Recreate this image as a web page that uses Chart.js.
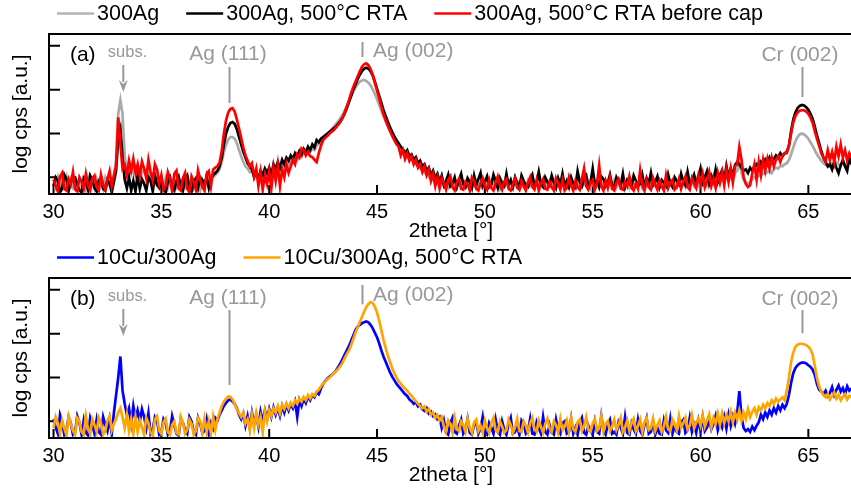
<!DOCTYPE html>
<html>
<head>
<meta charset="utf-8">
<script src="https://cdn.jsdelivr.net/npm/chart.js@4.4.1/dist/chart.umd.min.js"></script>
<style>
  html, body { margin: 0; padding: 0; background: #fff; overflow: hidden; }
  #wrap { width: 851px; height: 493px; overflow: hidden; position: relative; }
  .panel { position: absolute; left: 0; width: 856px; height: 244px; }
</style>
</head>
<body>
<div id="wrap">
  <div class="panel" style="top:0"><canvas id="chartA" width="856" height="244"></canvas></div>
  <div class="panel" style="top:244px"><canvas id="chartB" width="856" height="244"></canvas></div>
</div>
<script>
// measurement grid: 2theta from 30.0 to 67.0 in 0.1 deg steps
const X_START = 30.0;
const X_STEP = 0.1;
const X_TICKS = [30, 35, 40, 45, 50, 55, 60, 65];
const Y_TICKS = [1, 2, 3, 4];

// log cps (decades, arbitrary offset), one row per degree
const ag300 = [
  0.88,0.76,0.98,0.70,0.90,0.80,1.00,0.72,0.94,0.78,
  0.90,0.74,0.96,0.80,0.86,0.72,0.98,0.78,0.88,0.74,
  0.96,0.80,0.90,0.74,0.98,0.82,0.88,0.78,1.00,1.40,
  2.45,2.76,2.45,1.50,1.15,1.05,1.20,1.10,1.25,1.15,
  1.22,1.08,1.18,1.02,1.12,0.96,1.06,0.90,1.00,0.86,
  0.94,0.80,0.98,0.76,0.92,0.82,0.96,0.78,0.90,0.84,
  0.96,0.78,0.90,0.82,0.98,0.76,0.92,0.80,0.70,0.94,
  0.82,0.96,0.80,0.98,1.00,1.05,1.10,1.18,1.35,1.58,
  1.75,1.86,1.92,1.92,1.88,1.78,1.62,1.48,1.35,1.25,
  1.20,1.12,1.15,1.05,1.10,1.00,1.08,1.02,1.12,1.05,
  1.15,1.08,1.20,1.12,1.25,1.18,1.30,1.22,1.35,1.28,
  1.40,1.35,1.45,1.40,1.50,1.46,1.55,1.52,1.60,1.58,
  1.65,1.62,1.72,1.76,1.82,1.88,1.92,1.98,2.04,2.10,
  2.16,2.22,2.28,2.35,2.42,2.52,2.62,2.74,2.85,2.96,
  3.05,3.12,3.18,3.21,3.22,3.20,3.16,3.10,3.01,2.90,
  2.78,2.65,2.52,2.40,2.28,2.17,2.07,1.98,1.89,1.81,
  1.74,1.68,1.60,1.55,1.50,1.45,1.40,1.36,1.30,1.26,
  1.22,1.16,1.12,1.06,1.02,0.96,0.94,0.88,0.90,0.84,
  0.92,0.80,0.90,0.78,0.94,0.80,0.88,0.76,0.92,0.80,
  0.88,0.78,0.92,0.76,0.86,0.80,0.90,0.74,0.88,0.78,
  0.90,0.76,0.86,0.80,0.92,0.78,0.88,0.74,0.90,0.80,
  0.86,0.78,0.92,0.76,0.88,0.80,0.90,0.78,0.86,0.76,
  0.92,0.80,0.88,0.76,0.90,0.78,0.86,0.80,0.92,0.76,
  0.88,0.78,0.90,0.80,0.86,0.76,0.92,0.78,0.88,0.80,
  0.90,0.76,0.88,0.80,0.92,0.78,0.86,0.80,0.90,0.76,
  0.88,0.80,0.92,0.78,0.86,0.76,0.90,0.80,0.88,0.78,
  0.92,0.76,0.86,0.80,0.90,0.78,0.88,0.76,0.92,0.80,
  0.86,0.78,0.90,0.76,0.88,0.80,0.92,0.78,0.86,0.80,
  0.90,0.78,0.88,0.80,0.92,0.76,0.90,0.80,0.88,0.78,
  0.92,0.80,0.90,0.78,0.94,0.82,0.90,0.80,0.96,0.82,
  0.94,0.84,1.00,0.82,0.96,0.86,1.02,0.84,0.98,0.88,
  1.02,0.90,1.06,0.92,1.04,0.96,1.10,1.15,1.35,1.10,
  0.95,0.88,0.85,0.90,0.95,1.00,0.98,1.05,1.02,1.10,
  1.08,1.12,1.15,1.10,1.18,1.22,1.20,1.26,1.25,1.30,
  1.32,1.40,1.52,1.68,1.82,1.92,1.98,2.00,1.98,1.94,
  1.88,1.80,1.72,1.62,1.52,1.45,1.38,1.32,1.28,1.30,
  1.25,1.32,1.28,1.35,1.30,1.26,1.34,1.30,1.28,1.32,
  1.30
];

const ag300Rta = [
  0.80,1.00,0.92,0.66,0.74,1.06,0.96,0.70,0.88,1.02,
  1.00,0.84,0.70,0.66,0.98,0.90,0.72,1.04,0.94,0.76,
  0.68,0.92,1.00,0.74,0.70,0.94,0.86,0.66,0.90,1.15,
  1.90,2.10,1.45,0.95,0.75,1.00,0.70,0.92,0.68,1.05,
  0.74,0.96,0.86,0.70,1.00,0.92,0.68,1.04,0.82,0.76,
  0.98,0.72,0.66,0.90,1.00,0.76,0.70,0.92,1.02,0.80,
  0.70,0.96,1.04,0.74,0.68,0.90,0.98,0.76,1.00,0.94,
  0.80,1.02,0.76,0.98,1.05,1.10,1.15,1.25,1.45,1.75,
  2.00,2.15,2.24,2.26,2.22,2.10,1.92,1.75,1.58,1.45,
  1.32,1.25,1.18,1.00,1.12,0.95,1.15,1.05,1.20,1.10,
  1.22,1.05,1.30,1.18,1.35,1.22,1.40,1.30,1.45,1.38,
  1.50,1.42,1.55,1.48,1.60,1.52,1.65,1.58,1.70,1.62,
  1.75,1.68,1.85,1.80,1.88,1.92,1.96,2.00,2.04,2.08,
  2.12,2.16,2.22,2.28,2.36,2.46,2.58,2.72,2.86,3.00,
  3.12,3.24,3.34,3.42,3.48,3.50,3.48,3.42,3.32,3.18,
  3.02,2.86,2.70,2.54,2.40,2.27,2.15,2.04,1.94,1.85,
  1.78,1.70,1.64,1.56,1.62,1.48,1.52,1.40,1.46,1.32,
  1.38,1.25,1.30,1.15,1.22,1.05,1.15,0.98,1.08,0.90,
  1.04,0.82,0.92,1.06,0.80,0.86,1.00,0.78,0.94,1.08,
  0.84,0.78,0.98,0.90,0.76,1.04,0.82,0.96,1.10,0.80,
  0.90,1.02,0.78,0.84,1.06,0.92,0.76,0.98,0.86,0.80,
  1.08,0.82,0.94,0.78,1.00,0.88,0.76,1.04,0.92,0.82,
  0.78,0.96,1.06,0.80,0.86,1.12,0.84,0.78,1.00,0.90,
  0.82,1.04,0.88,0.76,0.98,0.84,1.08,0.80,0.92,0.78,
  1.00,0.86,0.78,1.14,0.90,0.80,0.96,1.04,0.78,0.88,
  1.20,0.84,0.92,0.78,1.02,0.96,0.80,0.88,1.06,0.82,
  0.78,1.00,0.90,0.82,1.08,0.78,0.94,0.86,0.80,1.04,
  0.92,0.80,0.86,1.06,0.78,0.98,0.84,1.10,0.82,0.90,
  1.02,0.78,0.94,0.88,0.80,1.06,0.86,0.78,1.00,0.92,
  0.84,1.08,0.90,0.82,1.12,0.86,0.94,1.06,0.84,1.00,
  1.20,0.88,1.00,1.14,0.86,1.04,0.92,1.18,0.90,1.06,
  1.16,0.94,1.26,1.00,1.20,1.05,1.28,1.35,1.30,1.22,
  1.15,1.18,1.10,1.22,1.15,1.25,1.30,1.20,1.35,1.28,
  1.40,1.30,1.45,1.35,1.42,1.50,1.45,1.55,1.48,1.55,
  1.58,1.72,2.05,2.32,2.48,2.58,2.63,2.65,2.64,2.60,
  2.54,2.45,2.33,2.15,1.95,1.78,1.60,1.45,1.35,1.25,
  1.30,1.18,1.35,1.22,1.10,1.28,1.40,1.25,1.15,1.45,
  1.30
];

const ag300RtaBeforeCap = [
  0.95,0.80,0.68,1.02,1.10,0.74,0.70,0.96,0.84,1.12,
  0.72,0.68,1.00,0.90,0.74,1.08,0.82,0.70,0.98,1.04,
  0.78,0.70,1.06,0.84,0.72,0.96,1.14,0.80,1.05,1.25,
  2.37,1.75,1.20,1.28,1.05,1.38,1.15,1.42,1.10,1.30,
  1.02,1.36,1.20,0.98,1.40,1.12,0.92,1.30,1.18,0.85,
  1.05,0.72,0.80,1.12,0.98,0.68,1.08,1.15,0.75,0.70,
  0.98,1.10,0.74,0.66,1.02,0.90,0.72,1.16,0.95,0.78,
  0.70,1.08,1.14,0.80,1.18,1.22,1.25,1.34,1.60,2.00,
  2.30,2.48,2.56,2.58,2.50,2.32,2.12,1.90,1.68,1.50,
  1.38,1.25,1.32,1.02,1.20,0.80,1.12,0.72,1.05,0.85,
  1.15,0.75,1.22,0.92,1.28,0.80,1.18,1.00,1.30,1.10,
  1.25,1.40,1.30,1.52,1.45,1.66,1.62,1.50,1.58,1.48,
  1.46,1.40,1.35,1.55,1.72,1.85,1.90,1.95,2.00,2.04,
  2.08,2.14,2.20,2.26,2.36,2.48,2.62,2.76,2.92,3.06,
  3.18,3.30,3.42,3.52,3.58,3.60,3.56,3.47,3.34,3.16,
  2.98,2.80,2.62,2.44,2.30,2.18,2.06,1.95,1.85,1.76,
  1.70,1.50,1.62,1.42,1.55,1.38,1.48,1.30,1.40,1.22,
  1.30,1.12,1.25,1.05,1.18,0.92,1.08,0.80,1.00,0.75,
  0.98,0.86,0.72,0.94,1.02,0.78,0.70,0.88,0.96,0.74,
  0.72,0.90,0.84,0.70,1.00,0.92,0.74,0.70,0.86,0.98,
  0.80,0.72,0.94,0.76,0.70,0.88,1.02,0.82,0.72,0.90,
  0.96,0.74,0.70,0.84,0.98,0.76,0.72,0.92,0.80,0.70,
  0.88,1.00,0.78,0.72,0.94,0.70,0.86,0.96,0.74,0.72,
  0.90,0.78,0.70,0.98,0.86,0.72,0.94,0.70,0.76,1.00,
  0.82,0.70,0.92,0.78,0.72,0.96,1.20,0.80,0.72,0.88,
  0.94,0.72,0.86,1.27,0.80,0.70,0.92,0.76,1.00,0.74,
  0.70,0.88,0.96,0.74,0.72,0.90,0.80,1.02,0.76,0.70,
  0.86,0.74,1.16,0.82,0.70,0.94,0.78,0.72,0.98,0.84,
  0.72,0.92,0.80,0.70,1.04,0.76,0.88,0.94,0.72,0.78,
  0.96,0.74,0.90,1.02,0.78,0.72,0.98,0.86,0.76,1.04,
  0.84,1.08,0.78,0.92,1.12,0.80,0.96,0.76,1.10,0.88,
  1.12,0.82,1.18,0.90,1.20,0.88,1.25,1.30,1.69,1.40,
  1.00,0.85,0.78,0.82,1.10,1.30,0.95,1.35,1.05,1.40,
  1.15,1.42,1.20,1.45,1.25,1.40,1.48,1.35,1.50,1.55,
  1.55,1.72,2.00,2.25,2.40,2.48,2.52,2.53,2.53,2.50,
  2.45,2.36,2.24,2.05,1.88,1.72,1.55,1.45,1.36,1.62,
  1.40,1.58,1.35,1.70,1.48,1.75,1.45,1.62,1.38,1.55,
  1.45
];

const cu10Ag300 = [
  1.05,0.86,0.72,1.15,0.98,0.70,0.80,1.10,0.96,0.70,
  0.76,1.12,0.98,0.70,1.02,0.74,0.68,1.08,0.92,0.72,
  1.04,0.76,0.70,1.10,0.92,0.78,1.05,0.72,1.20,1.60,
  2.00,2.48,1.70,1.40,1.15,1.30,0.95,1.35,1.05,1.25,
  1.00,1.28,1.10,0.85,1.18,0.72,0.80,1.10,1.02,0.70,
  0.75,1.05,0.96,0.70,0.78,1.12,0.92,0.72,0.68,1.06,
  0.96,0.80,0.72,1.10,1.00,0.76,0.70,1.08,0.94,0.74,
  0.78,1.04,0.72,0.96,0.84,1.08,1.02,1.15,1.25,1.35,
  1.42,1.48,1.50,1.45,1.40,1.30,1.15,1.05,1.18,0.90,
  1.12,0.85,1.20,0.95,1.15,0.88,1.22,1.00,1.25,1.05,
  1.28,1.10,1.32,1.15,1.30,1.12,1.35,1.20,1.38,1.25,
  1.40,1.30,1.45,1.10,1.48,1.35,1.52,1.42,1.56,1.48,
  1.60,1.55,1.66,1.62,1.75,1.85,1.92,1.98,2.02,2.06,
  2.10,2.16,2.24,2.32,2.42,2.52,2.62,2.72,2.84,2.96,
  3.08,3.16,3.20,3.24,3.26,3.28,3.26,3.20,3.12,3.02,
  2.92,2.78,2.62,2.48,2.36,2.24,2.12,2.02,1.94,1.86,
  1.80,1.74,1.68,1.62,1.58,1.50,1.46,1.40,1.44,1.34,
  1.38,1.28,1.24,1.30,1.18,1.22,1.12,1.16,1.05,1.10,
  0.85,1.02,0.74,0.70,0.96,1.08,0.76,0.72,0.90,1.04,
  0.72,0.80,1.06,0.74,0.70,0.92,0.98,0.72,0.84,1.10,
  0.74,0.70,0.96,0.86,0.72,1.04,0.76,0.70,1.00,0.82,
  0.70,0.94,1.08,0.72,0.76,0.88,0.70,1.02,0.94,0.72,
  0.78,1.06,0.72,0.70,0.98,0.84,0.72,1.10,0.76,0.70,
  0.92,0.74,0.70,1.04,0.80,0.72,0.96,1.00,0.72,0.76,
  1.06,0.72,0.86,0.70,0.98,1.08,0.74,0.70,0.90,0.78,
  0.70,1.00,0.76,0.72,1.12,0.80,0.70,0.94,1.04,0.72,
  0.76,0.70,0.98,0.86,0.72,1.10,0.74,0.70,0.96,0.82,
  0.72,1.04,0.78,0.70,0.92,1.08,0.72,0.76,1.00,0.70,
  0.86,0.72,0.70,1.02,0.80,0.74,1.06,0.72,0.90,0.76,
  0.72,0.98,1.04,0.74,0.80,1.08,0.76,0.92,0.74,1.02,
  0.80,1.10,0.78,0.86,1.04,0.82,0.94,1.12,0.80,0.98,
  0.86,1.10,0.84,1.15,0.90,1.12,0.95,1.20,1.69,1.10,
  0.85,0.78,0.82,0.76,0.88,0.80,0.90,0.98,1.15,1.05,
  1.20,1.10,1.25,1.15,1.30,1.20,1.35,1.25,1.38,1.30,
  1.40,1.60,1.88,2.10,2.22,2.28,2.32,2.34,2.34,2.32,
  2.28,2.24,2.18,2.06,1.85,1.72,1.68,1.62,1.70,1.58,
  1.65,1.78,1.60,1.72,1.82,1.68,1.76,1.62,1.80,1.70,
  1.75
];

const cu10Ag300Rta = [
  0.85,1.10,0.96,0.72,1.02,0.84,0.68,1.12,0.95,0.78,
  0.70,1.08,1.00,0.76,0.70,1.12,0.82,0.72,1.05,0.92,
  0.76,1.08,0.96,0.70,0.78,1.02,1.12,0.80,0.95,1.05,
  1.20,1.30,1.10,0.85,1.15,0.78,1.05,0.72,1.10,0.76,
  1.02,0.86,0.70,1.08,0.96,0.74,0.68,1.05,1.12,0.78,
  0.72,0.98,1.06,0.76,0.70,0.92,1.00,0.74,0.70,1.10,
  0.96,0.72,0.80,1.04,0.94,0.70,0.78,1.08,1.00,0.74,
  1.06,0.76,1.00,0.72,1.10,0.80,1.05,1.20,1.35,1.45,
  1.52,1.57,1.56,1.50,1.40,1.28,1.18,1.10,1.20,0.95,
  1.05,0.80,1.15,0.85,1.18,0.92,1.10,0.75,1.22,1.00,
  1.25,1.12,1.30,1.20,1.35,1.18,1.38,1.28,1.40,1.30,
  1.42,1.35,1.48,1.40,1.52,1.45,1.55,1.48,1.60,1.52,
  1.62,1.58,1.68,1.72,1.80,1.86,1.90,1.96,2.00,2.05,
  2.10,2.14,2.20,2.26,2.34,2.44,2.54,2.62,2.74,2.88,
  3.02,3.14,3.26,3.38,3.50,3.60,3.68,3.72,3.70,3.62,
  3.48,3.30,3.08,2.86,2.68,2.50,2.36,2.22,2.10,2.00,
  1.92,1.86,1.80,1.74,1.70,1.64,1.58,1.52,1.46,1.40,
  1.35,1.30,1.34,1.22,1.28,1.15,1.20,1.08,1.14,1.02,
  1.10,0.88,0.76,1.02,0.94,0.74,1.08,0.82,0.78,1.00,
  0.92,0.76,1.06,0.84,0.74,0.98,1.04,0.78,0.90,0.74,
  1.02,0.86,0.74,0.96,1.08,0.80,0.76,1.00,0.88,0.74,
  0.80,1.04,0.92,0.74,0.86,1.06,0.78,0.76,1.00,0.90,
  0.74,0.96,1.08,0.82,0.76,1.02,0.88,0.74,0.94,1.06,
  0.84,0.76,1.00,0.92,0.74,1.06,0.80,0.88,1.02,0.76,
  1.08,0.82,0.76,0.98,1.04,0.78,0.90,1.10,0.80,0.76,
  0.96,1.06,0.78,0.84,1.12,0.76,0.94,1.00,0.78,0.88,
  1.04,0.80,0.92,1.08,0.76,0.86,1.02,0.78,0.96,1.06,
  0.78,0.90,1.04,0.76,0.98,1.08,0.80,0.84,1.06,0.78,
  0.92,1.02,0.76,0.88,1.10,0.82,0.78,1.04,0.94,0.80,
  1.12,0.86,0.96,1.08,0.82,0.90,1.14,0.84,0.98,1.06,
  0.90,1.14,0.88,1.02,1.16,0.86,1.08,0.94,1.18,0.92,
  1.18,0.96,1.14,1.00,1.22,0.98,1.20,1.04,1.25,1.02,
  1.20,1.05,1.28,1.10,1.22,1.30,1.15,1.32,1.25,1.38,
  1.30,1.42,1.35,1.48,1.40,1.52,1.45,1.50,1.55,1.48,
  1.70,2.00,2.35,2.57,2.70,2.75,2.77,2.77,2.76,2.74,
  2.70,2.64,2.52,2.26,1.98,1.80,1.68,1.60,1.55,1.62,
  1.50,1.58,1.66,1.52,1.60,1.48,1.56,1.62,1.50,1.58,
  1.55
];

// peak labels: [text, x, y baseline]
const peakLabels = [
  ['subs.', 33.43, 3.745],
  ['Ag (111)', 38.09, 3.677],
  ['Ag (002)', 44.81, 3.75],
  ['Cr (002)', 64.61, 3.66]
];

const FONT = '"Liberation Sans", Arial, Helvetica, sans-serif';

function toPoints(vals) {
  return vals.map((v, i) => ({ x: X_START + i * X_STEP, y: v }));
}

const decorPlugin = {
  id: 'decor',
  beforeDatasetsDraw(chart) {
    const { ctx, chartArea: a, scales: { x, y } } = chart;
    ctx.save();
    ctx.strokeStyle = '#000';
    ctx.lineWidth = 2;
    ctx.beginPath();
    X_TICKS.forEach(v => {
      const px = x.getPixelForValue(v);
      ctx.moveTo(px, a.bottom);
      ctx.lineTo(px, a.bottom - 9);
    });
    Y_TICKS.forEach(v => {
      const py = y.getPixelForValue(v);
      ctx.moveTo(a.left, py);
      ctx.lineTo(a.left + 11, py);
    });
    ctx.stroke();
    ctx.restore();
  },
  afterDatasetsDraw(chart, args, opts) {
    const { ctx, chartArea: a, scales: { x, y } } = chart;
    ctx.save();
    // frame
    ctx.strokeStyle = '#000';
    ctx.lineWidth = 2;
    ctx.strokeRect(a.left, a.top, a.right - a.left, a.bottom - a.top);

    // panel letter
    ctx.fillStyle = '#000';
    ctx.font = '21px ' + FONT;
    ctx.textAlign = 'left';
    ctx.textBaseline = 'alphabetic';
    ctx.fillText(opts.letter, x.getPixelForValue(30.76), y.getPixelForValue(3.66));

    // peak labels
    ctx.fillStyle = '#999';
    peakLabels.forEach(([t, vx, vy]) => {
      ctx.font = (t === 'subs.' ? '16.5px ' : '21px ') + FONT;
      ctx.textAlign = t.startsWith('Ag (002)') ? 'left' : 'center';
      ctx.fillText(t, x.getPixelForValue(vx), y.getPixelForValue(vy));
    });

    // marker lines
    ctx.strokeStyle = '#999';
    ctx.lineWidth = 2;
    ctx.beginPath();
    opts.markers.forEach(([vx, y1, y2]) => {
      const px = Math.round(x.getPixelForValue(vx)) + 0.5;
      ctx.moveTo(px, y.getPixelForValue(y1));
      ctx.lineTo(px, y.getPixelForValue(y2));
    });
    ctx.stroke();

    // substrate arrow
    const [ax, ay1, ay2] = opts.arrow;
    const apx = x.getPixelForValue(ax);
    const top = y.getPixelForValue(ay1), tip = y.getPixelForValue(ay2);
    ctx.beginPath();
    ctx.moveTo(apx, top);
    ctx.lineTo(apx, tip - 10);
    ctx.stroke();
    ctx.fillStyle = '#999';
    ctx.beginPath();
    ctx.moveTo(apx - 4.5, tip - 12);
    ctx.lineTo(apx, tip - 8);
    ctx.lineTo(apx + 4.5, tip - 12);
    ctx.lineTo(apx, tip);
    ctx.closePath();
    ctx.fill();

    // legend row above the frame
    ctx.font = '21.5px ' + FONT;
    ctx.textAlign = 'left';
    ctx.textBaseline = 'middle';
    let lx = 57;
    const ly = 13.5;
    chart.data.datasets.slice().reverse().forEach(ds => {
      ctx.strokeStyle = ds.legendColor || ds.borderColor;
      ctx.lineWidth = 2.5;
      ctx.beginPath();
      ctx.moveTo(lx, ly);
      ctx.lineTo(lx + 37, ly);
      ctx.stroke();
      ctx.fillStyle = '#000';
      ctx.fillText(ds.label, lx + 40, ly + 1);
      lx += 40 + ctx.measureText(ds.label).width + 27;
    });
    ctx.restore();
  }
};

function makeOptions(decor) {
  return {
    responsive: false,
    animation: false,
    devicePixelRatio: 1,
    layout: { padding: { top: 34, right: 3, left: 0, bottom: 0 } },
    elements: { point: { radius: 0 }, line: { borderWidth: 2.7, tension: 0 } },
    plugins: { legend: { display: false }, tooltip: { enabled: false }, decor: decor },
    scales: {
      x: {
        type: 'linear', min: 29.79, max: 67.07,
        grid: { display: false }, border: { display: false },
        afterBuildTicks: s => { s.ticks = X_TICKS.map(v => ({ value: v })); },
        afterFit: s => { s.height = 50; },
        ticks: { color: '#000', padding: -2, maxRotation: 0, font: { family: FONT, size: 20 } },
        title: { display: true, text: '2theta [°]', color: '#000', padding: { top: 0, bottom: 0 },
                 font: { family: FONT, size: 21 } }
      },
      y: {
        type: 'linear', min: 0.62, max: 4.27,
        grid: { display: false }, border: { display: false },
        ticks: { display: false },
        afterFit: s => { s.width = 49; },
        title: { display: true, text: 'log cps [a.u.]', color: '#000', padding: { top: 9, bottom: 0 },
                 font: { family: FONT, size: 21 } }
      }
    }
  };
}

// top panel: datasets listed top-most first
new Chart(document.getElementById('chartA'), {
  type: 'line',
  data: {
    datasets: [
      { label: '300Ag, 500°C RTA before cap', data: toPoints(ag300RtaBeforeCap), borderColor: '#ff0000' },
      { label: '300Ag, 500°C RTA', data: toPoints(ag300Rta), borderColor: '#000000' },
      { label: '300Ag', data: toPoints(ag300), borderColor: '#aaaaaa', legendColor: '#b4b4b4' }
    ]
  },
  options: makeOptions({
    letter: '(a)',
    markers: [[38.14, 3.517, 2.696], [44.29, 4.087, 3.745], [64.69, 3.517, 2.833]],
    arrow: [33.235, 3.563, 2.947]
  }),
  plugins: [decorPlugin]
});

// bottom panel
new Chart(document.getElementById('chartB'), {
  type: 'line',
  data: {
    datasets: [
      { label: '10Cu/300Ag, 500°C RTA', data: toPoints(cu10Ag300Rta), borderColor: '#ffa500' },
      { label: '10Cu/300Ag', data: toPoints(cu10Ag300), borderColor: '#0000ff' }
    ]
  },
  options: makeOptions({
    letter: '(b)',
    markers: [[38.14, 3.54, 1.829], [44.29, 4.11, 3.67], [64.69, 3.54, 3.01]],
    arrow: [33.235, 3.563, 2.947]
  }),
  plugins: [decorPlugin]
});
</script>
</body>
</html>
